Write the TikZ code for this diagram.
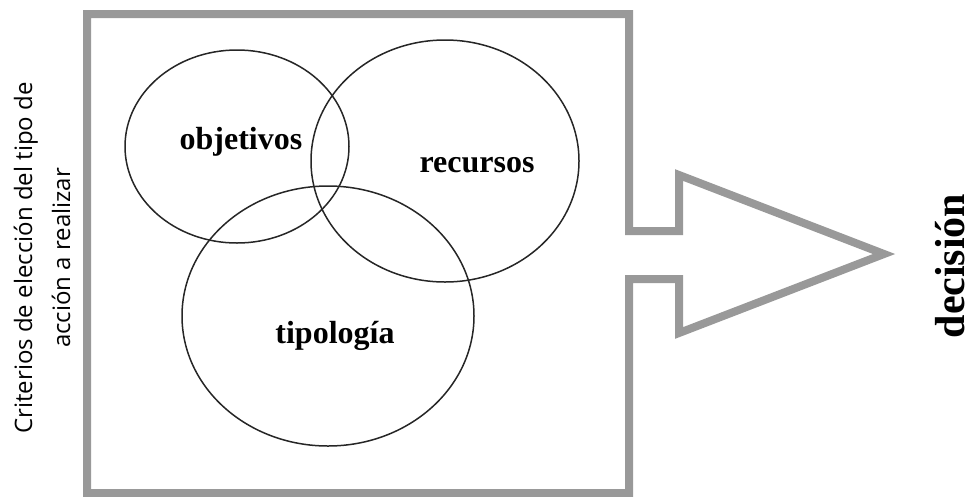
\documentclass[tikz,border=0pt]{standalone}
\usepackage{fontspec}
\setmainfont{Liberation Serif}
\newfontfamily\critfont{Open Sans}
\usepackage{tikz}
\definecolor{framegray}{RGB}{153,153,153}

\begin{document}
\begin{tikzpicture}[x=1pt, y=-1pt,
  set/.style={draw=black!85, line width=1.5pt},
  setlabel/.style={font=\fontsize{32}{38}\selectfont\bfseries},
  frame/.style={draw=framegray, line width=8pt, miter limit=20}]

\useasboundingbox (0,0) rectangle (969,496);

% frame with the outgoing arrow
\draw[frame]
 (629,279) -- (629,493) -- (87,493) -- (87,14) -- (629,14) -- (629,231)
 -- (679,231) -- (679,175) -- (884,254) -- (679,333) -- (679,279) -- cycle;

% the three sets
 \foreach \cx/\cy/\rx/\ry in {237/146.5/112/96.5, 445/161/134/121, 328/316/146/130}
  {
  \draw[set] (\cx,\cy) ellipse [x radius=\rx, y radius=\ry];
  }

\node[setlabel] (objetivos) at (241,142) {objetivos};
\node[setlabel] (recursos) at (477,165) {recursos};
\node[setlabel] (tipologia) at (335,336) {tipología};

% side texts
\node[rotate=90, align=center, font=\critfont\fontsize{24}{38}\selectfont]
 (criterios) at (42,258) {Criterios de elección del tipo de\\acción a realizar};
\node[rotate=90, inner sep=0pt, font=\fontsize{42}{46}\selectfont\bfseries]
 (decision) at (950,266) {decisión};

\end{tikzpicture}
\end{document}
